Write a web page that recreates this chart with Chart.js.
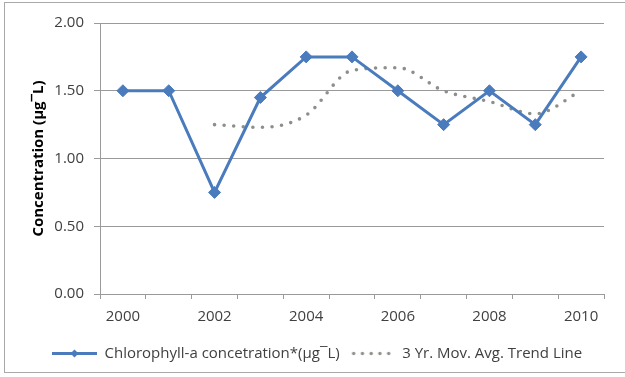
<!DOCTYPE html>
<html>
<head>
<meta charset="utf-8">
<title>Chlorophyll-a concentration</title>
<style>
  html, body { margin: 0; padding: 0; background: #ffffff; overflow: hidden; }
  #wrap { position: relative; width: 625px; height: 377px; }
  canvas { display: block; }
</style>
<script src="https://cdn.jsdelivr.net/npm/chart.js@4/dist/chart.umd.min.js"></script>
</head>
<body>
<div id="wrap"><canvas id="chart" width="625" height="377"></canvas></div>
<script>
// Sampling years (category axis)
const years = ['2000', '2001', '2002', '2003', '2004', '2005', '2006', '2007', '2008', '2009', '2010'];
// Annual chlorophyll-a concentration
const chlorophyll = [1.50, 1.50, 0.75, 1.45, 1.75, 1.75, 1.50, 1.25, 1.50, 1.25, 1.75];
// Three-year moving average (starts with the third year)
const movingAvg = [null, null, 1.25, 1.23, 1.32, 1.65, 1.67, 1.50, 1.42, 1.33, 1.50];
// Value axis range
const yMin = 0;
const yMax = 2;
const yStep = 0.5;
// Series names
const seriesNames = ['Chlorophyll-a concetration*(µg¯L)', '3 Yr. Mov. Avg. Trend Line'];
const yTitle = 'Concentration (µg¯L)';

const BLUE = '#4a7bbd';
const TREND = '#8e8e8a';
const GRID = '#9a9a9a';
const TEXT = '#404040';
const FONT = "'Open Sans', 'Liberation Sans', sans-serif";

// Small legend swatches: a line with a diamond, and a row of dots
function swatch(draw) {
  const c = document.createElement('canvas');
  c.width = 45; c.height = 15;
  draw(c.getContext('2d'));
  return c;
}
const lineSwatch = swatch(g => {
  g.strokeStyle = BLUE; g.lineWidth = 3;
  g.beginPath(); g.moveTo(0, 7.5); g.lineTo(45, 7.5); g.stroke();
  g.fillStyle = BLUE;
  g.beginPath();
  g.moveTo(22.5, 3.5); g.lineTo(26.5, 7.5); g.lineTo(22.5, 11.5); g.lineTo(18.5, 7.5);
  g.closePath(); g.fill();
});
const dotSwatch = swatch(g => {
  g.fillStyle = TREND;
  for (let i = 0; i < 5; i++) {
    g.beginPath(); g.arc(4 + i * 8.75, 7.5, 1.7, 0, Math.PI * 2); g.fill();
  }
});

// Frame around the whole chart
const framePlugin = {
  id: 'frame',
  beforeDraw(chart) {
    const ctx = chart.ctx;
    ctx.save();
    ctx.strokeStyle = '#a9a9a9';
    ctx.lineWidth = 1;
    ctx.strokeRect(4.5, 2.5, 700, 370);
    ctx.restore();
  }
};

// Put the legend row under the plot, starting near the left frame
const legendShift = {
  id: 'legendShift',
  afterLayout(chart) {
    if (chart.legend) {
      chart.legend.left = 42;
    }
  }
};

new Chart(document.getElementById('chart'), {
  type: 'line',
  data: {
    labels: years,
    datasets: [
      {
        label: seriesNames[0],
        data: chlorophyll,
        borderColor: BLUE,
        backgroundColor: BLUE,
        borderWidth: 3,
        tension: 0,
        pointStyle: 'rectRot',
        pointRadius: 6,
        pointBorderWidth: 1,
        pointBackgroundColor: BLUE,
        pointBorderColor: BLUE,
        order: 1
      },
      {
        label: seriesNames[1],
        data: movingAvg,
        borderColor: TREND,
        backgroundColor: TREND,
        borderWidth: 3.6,
        borderDash: [0, 9.6],
        borderCapStyle: 'round',
        cubicInterpolationMode: 'monotone',
        pointRadius: 0,
        spanGaps: false,
        order: 2
      }
    ]
  },
  options: {
    responsive: false,
    animation: false,
    events: [],
    layout: { padding: { top: 23, right: 21, bottom: 6, left: 0 } },
    plugins: {
      tooltip: { enabled: false },
      legend: {
        position: 'bottom',
        align: 'start',
        labels: {
          usePointStyle: true,
          pointStyleWidth: 45,
          boxHeight: 15,
          padding: 10,
          color: TEXT,
          font: { family: FONT, size: 15 },
          generateLabels() {
            return [
              { text: seriesNames[0], pointStyle: lineSwatch, fillStyle: BLUE, strokeStyle: BLUE, lineWidth: 0, hidden: false, datasetIndex: 0, fontColor: TEXT },
              { text: seriesNames[1], pointStyle: dotSwatch, fillStyle: TREND, strokeStyle: TREND, lineWidth: 0, hidden: false, datasetIndex: 1, fontColor: TEXT }
            ];
          }
        }
      }
    },
    scales: {
      x: {
        type: 'category',
        offset: true,
        afterFit(scale) { scale.height = 42; },
        grid: {
          display: true,
          drawOnChartArea: false,
          drawTicks: true,
          tickLength: 5,
          color: GRID,
          offset: true
        },
        border: { display: true, color: GRID, width: 1 },
        ticks: {
          autoSkip: false,
          maxRotation: 0,
          padding: 9,
          color: TEXT,
          font: { family: FONT, size: 15 },
          callback(value, index) { return index % 2 === 0 ? years[index] : ''; }
        }
      },
      y: {
        min: yMin,
        max: yMax,
        afterFit(scale) { scale.width = 100; },
        grid: {
          color: GRID,
          lineWidth: 1,
          drawTicks: true,
          tickLength: 6
        },
        border: { display: true, color: GRID, width: 1 },
        ticks: {
          stepSize: yStep,
          padding: 10,
          color: TEXT,
          font: { family: FONT, size: 15 },
          callback(v) { return Number(v).toFixed(2); }
        },
        title: {
          display: true,
          text: yTitle,
          color: '#000000',
          padding: { top: 30, bottom: 0 },
          font: { family: FONT, size: 15, weight: 'bold' }
        }
      }
    }
  },
  plugins: [framePlugin, legendShift]
});
</script>
</body>
</html>
